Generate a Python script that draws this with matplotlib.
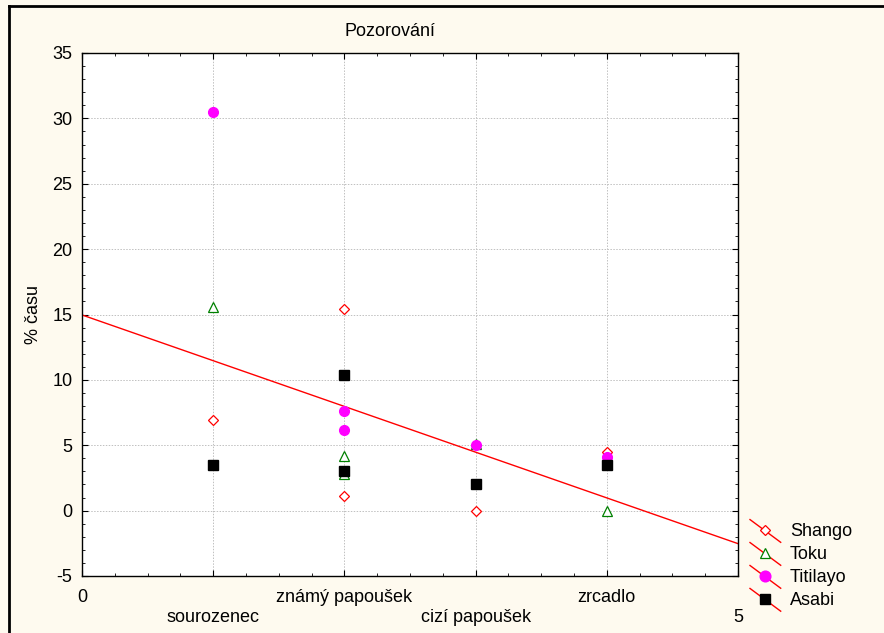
import numpy as np
import matplotlib
matplotlib.use("Agg")
import matplotlib.pyplot as plt
from matplotlib.lines import Line2D
from matplotlib.legend_handler import HandlerBase
from matplotlib.ticker import MultipleLocator

plt.rcParams["font.family"] = ["Liberation Sans", "DejaVu Sans"]
plt.rcParams["axes.unicode_minus"] = False

# data
categories = ["sourozenec", "známý papoušek", "cizí papoušek", "zrcadlo"]
shango_x = [1, 2, 2, 3, 4]
shango_y = [6.9, 15.4, 1.1, 0.0, 4.5]
toku_x = [1, 2, 2, 3, 4]
toku_y = [15.6, 4.2, 2.8, 5.1, 0.0]
titilayo_x = [1, 2, 2, 3, 4]
titilayo_y = [30.5, 7.6, 6.2, 5.0, 4.1]
asabi_x = [1, 2, 2, 3, 4]
asabi_y = [3.5, 10.4, 3.0, 2.0, 3.5]

xtick_pos = [0, 1, 2, 3, 4, 5]
xtick_labels = ["0", "\nsourozenec", "známý papoušek", "\ncizí papoušek", "zrcadlo", "\n5"]

bg = "#fefaef"
fs = 13


class DiagHandler(HandlerBase):
    """red diagonal line through the marker, like the old Statistica legends"""
    def create_artists(self, legend, orig_handle, xdescent, ydescent,
                       width, height, fontsize, trans):
        line = Line2D([-xdescent, width - xdescent], [height * 1.3, -height * 0.5],
                      color="red", lw=1)
        mk = Line2D([width / 2 - xdescent], [height / 2 - ydescent],
                    marker=orig_handle.get_marker(),
                    markersize=orig_handle.get_markersize() * 1.1,
                    markerfacecolor=orig_handle.get_markerfacecolor(),
                    markeredgecolor=orig_handle.get_markeredgecolor(),
                    markeredgewidth=orig_handle.get_markeredgewidth(),
                    linestyle="none")
        line.set_transform(trans)
        mk.set_transform(trans)
        return [line, mk]


fig = plt.figure(figsize=(8.84, 6.33), dpi=100, facecolor=bg)
ax = fig.add_axes([82 / 884, 1 - 576 / 633, (738 - 82) / 884, (576 - 53) / 633])
ax.set_facecolor("white")

# regression line over all points
all_x = np.array(shango_x + toku_x + titilayo_x + asabi_x, dtype=float)
all_y = np.array(shango_y + toku_y + titilayo_y + asabi_y, dtype=float)
k, q = np.polyfit(all_x, all_y, 1)
xx = np.array([0, 5])
ax.plot(xx, k * xx + q, color="red", lw=1, zorder=2)

h1, = ax.plot(shango_x, shango_y, "D", ms=5, mfc="white", mec="red", mew=0.9,
              ls="none", label="Shango", zorder=3)
h2, = ax.plot(toku_x, toku_y, "^", ms=7, mfc="white", mec="green", mew=0.9,
              ls="none", label="Toku", zorder=3)
h3, = ax.plot(titilayo_x, titilayo_y, "o", ms=7, mfc="magenta", mec="magenta",
              ls="none", label="Titilayo", zorder=3)
h4, = ax.plot(asabi_x, asabi_y, "s", ms=7, mfc="black", mec="black",
              ls="none", label="Asabi", zorder=3)

ax.set_xlim(0, 5)
ax.set_ylim(-5, 35)
ax.set_xticks(xtick_pos)
ax.set_xticklabels(xtick_labels, fontsize=fs)
for t in ax.get_xticklabels():
    t.set_linespacing(1.3)
ax.xaxis.set_minor_locator(MultipleLocator(0.25))
ax.yaxis.set_major_locator(MultipleLocator(5))
ax.yaxis.set_minor_locator(MultipleLocator(1))
ax.tick_params(axis="both", which="both", direction="in", top=True, right=True)
ax.tick_params(axis="both", which="major", length=4, width=0.8)
ax.tick_params(axis="both", which="minor", length=2.5, width=0.6)
ax.tick_params(axis="x", which="major", pad=9)
ax.tick_params(axis="y", which="major", labelsize=fs, pad=7)

ax.grid(True, which="major", axis="both", color="#c0c0c0", ls=(0, (1.5, 1.5)), lw=0.7)
ax.set_axisbelow(True)
for s in ax.spines.values():
    s.set_linewidth(1)

ax.set_ylabel("% času", fontsize=fs, labelpad=7)
fig.text(390 / 884, 1 - 32 / 633, "Pozorování", fontsize=fs, ha="center", va="center")

fig.legend(handles=[h1, h2, h3, h4], labels=["Shango", "Toku", "Titilayo", "Asabi"],
           handler_map={Line2D: DiagHandler()},
           loc="upper left", bbox_to_anchor=(750 / 884, 1 - 523 / 633),
           frameon=False, fontsize=fs, handlelength=1.7, handletextpad=0.5,
           labelspacing=0.33, borderaxespad=0, borderpad=0)

# old-style window frame on top and left
fig.add_artist(Line2D([9 / 884, 9 / 884], [0, 1 - 6 / 633], color="black", lw=2,
                      transform=fig.transFigure))
fig.add_artist(Line2D([9 / 884, 1], [1 - 6 / 633, 1 - 6 / 633], color="black", lw=2,
                      transform=fig.transFigure))

fig.savefig("out.png", dpi=100, facecolor=bg)
